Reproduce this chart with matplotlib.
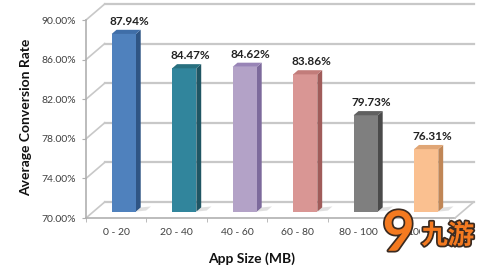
import matplotlib.pyplot as plt
from matplotlib.patches import Polygon
import matplotlib.patheffects as pe
import numpy as np

plt.rcParams['font.family'] = ['Lato', 'DejaVu Sans']

# data
sizes = ['0 - 20', '20 - 40', '40 - 60', '60 - 80', '80 - 100', '100+']
rates = [87.94, 84.47, 84.62, 83.86, 79.73, 76.31]
yticks = [70, 74, 78, 82, 86, 90]

front = ['#4f81bd', '#31859c', '#b3a2c7', '#d99694', '#7f7f7f', '#fac090']
side = ['#2f5584', '#1f5563', '#7d6a9c', '#a05c5a', '#4a4a4a', '#c08656']
top = ['#3f6ea8', '#28707f', '#9884b6', '#c27c7a', '#606060', '#e0a676']

# fake depth of the 3d box, in data units
DX, DY = 0.31, 1.62
d0, d1 = 0.40, 0.66
bw = 0.40
ymin, ymax = 70, 90
xmin, xmax = -0.5, 5.6
grid_c = '#c8c8c8'

fig = plt.figure(figsize=(4.92, 2.73), dpi=100)
ax = fig.add_axes([86 / 492, 55 / 273, 369 / 492, 198 / 273])
ax.set_xlim(xmin, xmax)
ax.set_ylim(ymin, ymax)
for s in ax.spines.values():
    s.set_visible(False)

# back wall gridlines and left wall diagonals
for v in yticks:
    ax.plot([xmin + DX, xmax + DX], [v + DY, v + DY], color=grid_c, lw=1.6,
            clip_on=False, zorder=1)
    ax.plot([xmin, xmin + DX], [v, v + DY], color=grid_c, lw=1.2,
            clip_on=False, zorder=1)
# floor and front axis
ax.plot([xmin, xmax], [ymin, ymin], color='#b0b0b0', lw=1.2, clip_on=False, zorder=1)
ax.plot([xmax, xmax + DX], [ymin, ymin + DY], color=grid_c, lw=1.2, clip_on=False, zorder=1)
ax.plot([xmin, xmin], [ymin, ymax], color='#b0b0b0', lw=1.2, clip_on=False, zorder=1)

x = np.arange(len(sizes))
xf = x + d0 * DX
# front faces
ax.bar(xf, np.array(rates) - ymin, bottom=ymin + d0 * DY, width=bw,
       color=front, zorder=4)
dd = (d1 - d0)
for i, v in enumerate(rates):
    l, r = xf[i] - bw / 2, xf[i] + bw / 2
    b, t = ymin + d0 * DY, v + d0 * DY
    # shadow on the floor
    ax.add_patch(Polygon([(r, b), (r + 0.17, b + 0.1), (r + 0.17 + dd * DX, b + 0.1 + dd * DY),
                          (r + dd * DX, b + dd * DY)],
                         closed=True, color='#d8d8d8', alpha=0.8, zorder=2, lw=0))
    # side
    ax.add_patch(Polygon([(r, b), (r + dd * DX, b + dd * DY), (r + dd * DX, t + dd * DY), (r, t)],
                         closed=True, color=side[i], zorder=3, lw=0))
    # top
    ax.add_patch(Polygon([(l, t), (r, t), (r + dd * DX, t + dd * DY), (l + dd * DX, t + dd * DY)],
                         closed=True, color=top[i], zorder=5, lw=0))
    ax.text(x[i] + 0.22, v + 1.35, f'{v:.2f}%', ha='center', va='bottom',
            fontsize=8.5, fontweight='bold', color='#222222', zorder=6)

ax.set_yticks(yticks)
ax.set_yticklabels([f'{v:.2f}%' for v in yticks])
ax.set_xticks(x)
ax.set_xticklabels(sizes)
ax.set_xticks(np.arange(len(sizes) + 1) - 0.5, minor=True)
ax.tick_params(axis='x', which='major', length=0, pad=7, labelsize=7.5, labelcolor='#404040')
ax.tick_params(axis='x', which='minor', length=3, color='#b0b0b0')
ax.tick_params(axis='y', length=3, color='#b0b0b0', pad=4, labelsize=7.5, labelcolor='#404040')

ax.set_ylabel('Average Conversion Rate', fontsize=10, fontweight='bold', color='#111111')
ax.yaxis.set_label_coords(-0.145, 0.51)
ax.set_xlabel('App Size (MB)', fontsize=10, fontweight='bold', color='#111111')
ax.xaxis.set_label_coords(0.45, -0.175)

# watermark
fig.text(0.81, 0.14, '9', fontsize=40, fontweight='bold', color='#f47a20', ha='center',
         va='center', zorder=10, path_effects=[pe.withStroke(linewidth=2.5, foreground='#3a2a20')])
fig.text(0.91, 0.135, '九游', fontsize=19, fontweight='bold', color='#f47a20', ha='center',
         va='center', zorder=10, family=['Noto Sans CJK SC', 'DejaVu Sans'],
         bbox=dict(boxstyle='square,pad=0.05', fc='white', ec='none'),
         path_effects=[pe.withStroke(linewidth=2.5, foreground='#3a2a20')])

fig.savefig('out.png', dpi=100)
